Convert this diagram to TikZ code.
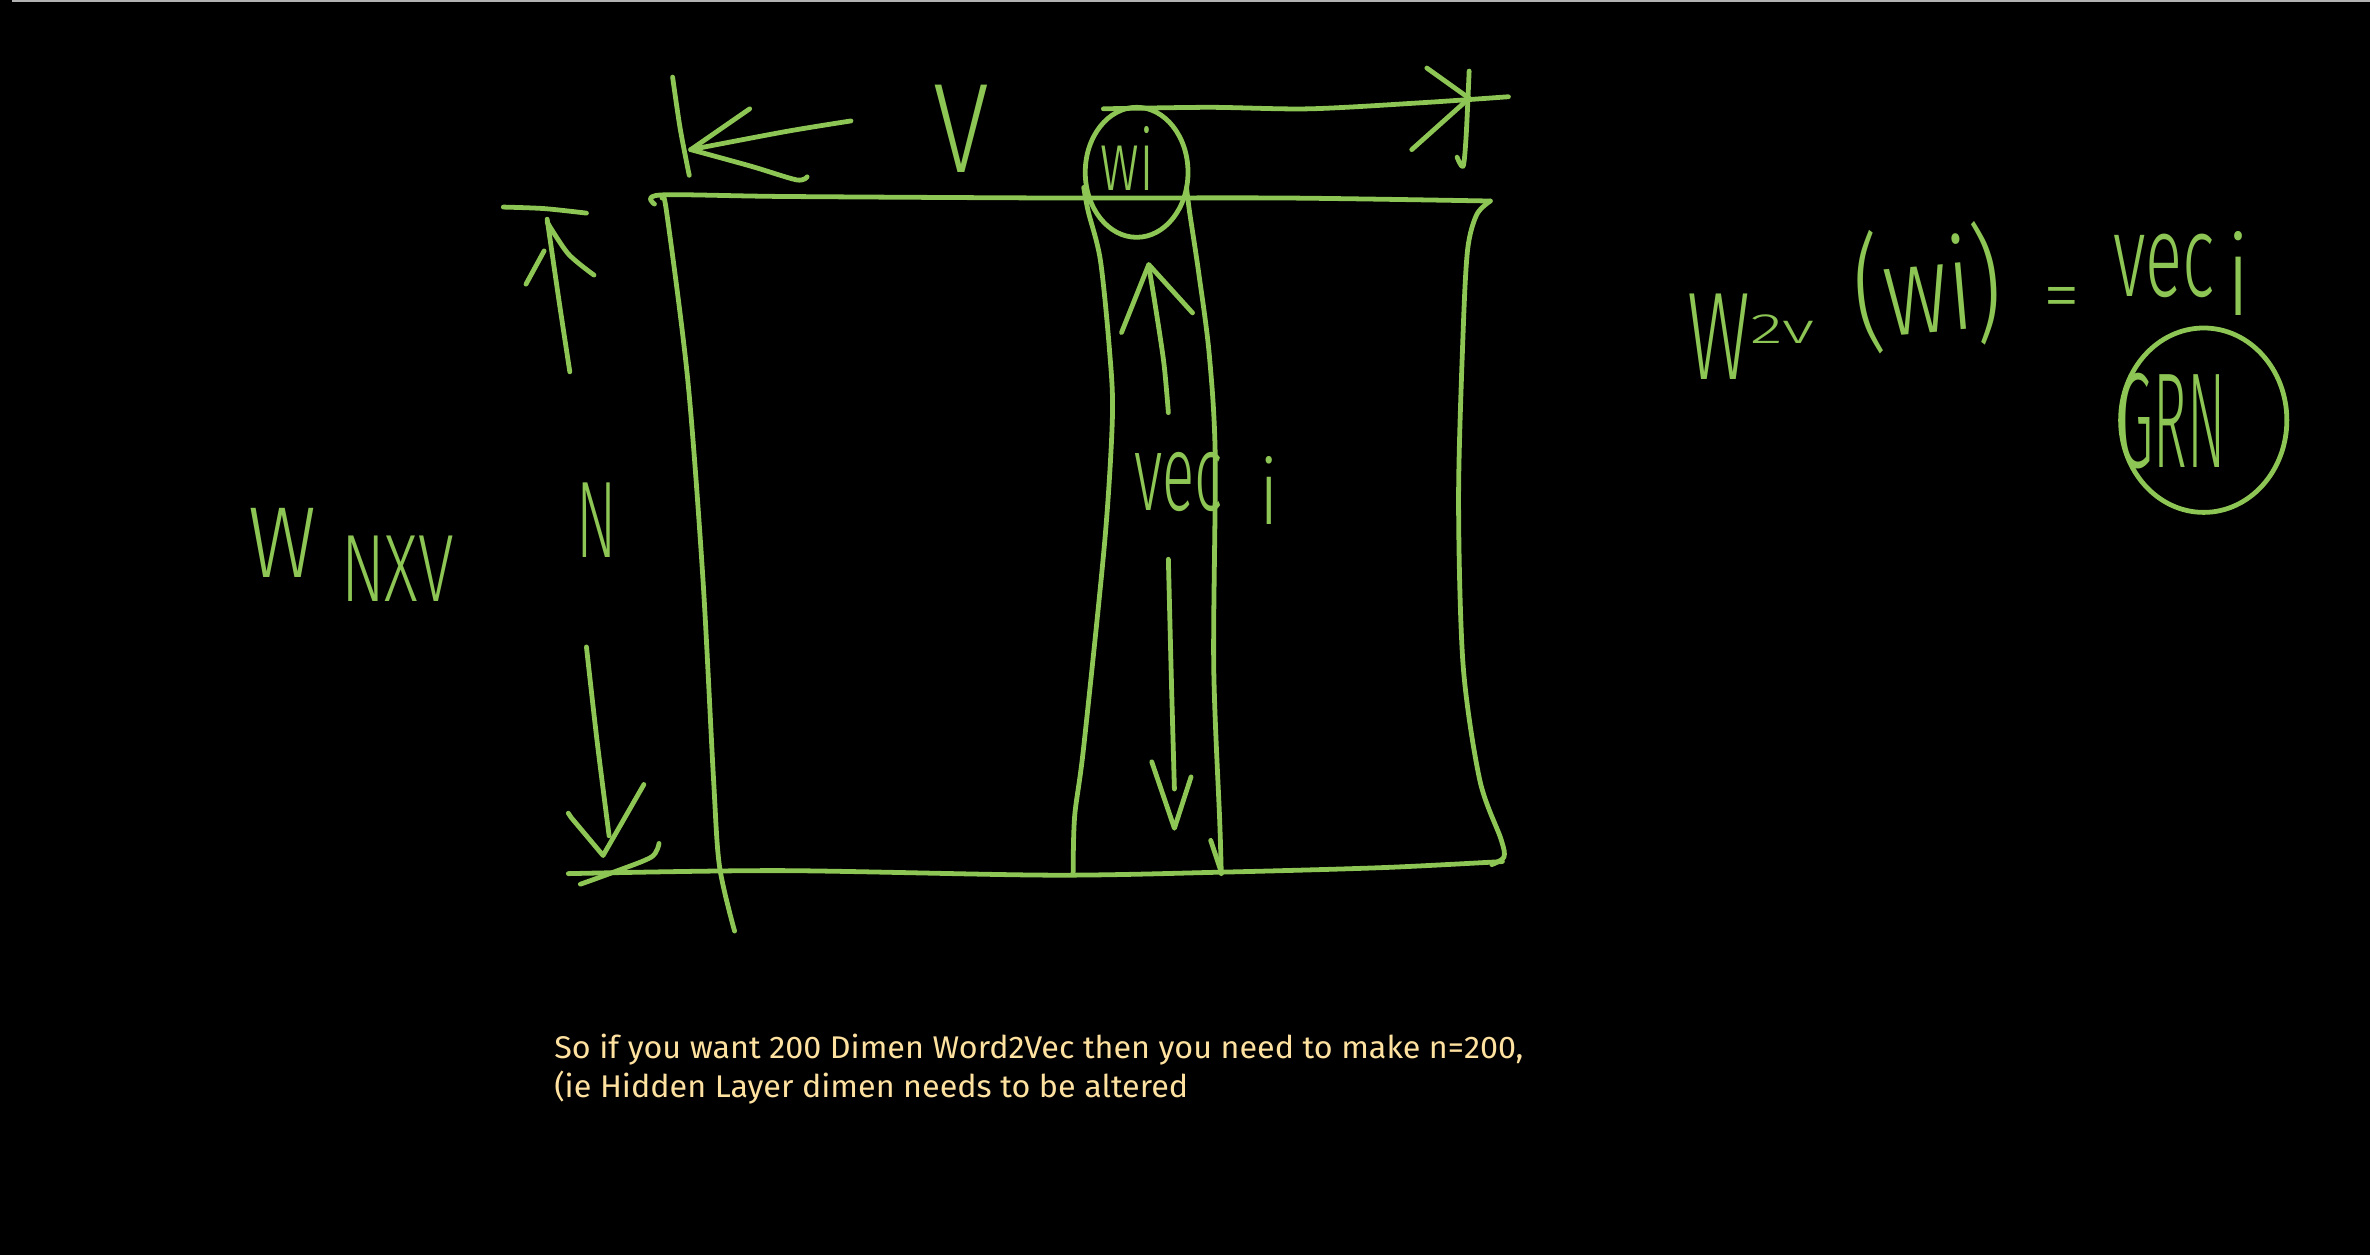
\documentclass[tikz,border=0pt]{standalone}
\usepackage{graphicx}
\usepackage{fontspec}
\setmainfont{Fira Sans}
\newfontfamily\hand{Fira Sans Light}
\definecolor{chalk}{RGB}{141,198,84}
\definecolor{note}{RGB}{255,226,160}
\newcommand{\hw}[3]{{\hand\fontsize{#2}{#2}\selectfont\scalebox{#1}[1]{#3}}}
\begin{document}
\begin{tikzpicture}[x=0.01cm,y=-0.01cm,
  pen/.style={draw=chalk,line width=0.9pt,line cap=round,line join=round},
  lbl/.style={text=chalk,inner sep=0pt,anchor=base},
  notetext/.style={text=note,inner sep=0pt,anchor=base west,font=\fontsize{5.9}{6}\selectfont}]
\fill[black] (0,0) rectangle (1568,830);
\useasboundingbox (0,0) rectangle (1568,830);
\draw[gray!60,line width=0.4pt] (8,0.6) -- (1568,0.6);

% ---- matrix W (N x V) ----
\draw[pen] plot[smooth,tension=0.5] coordinates {(433,135) (437,129) (520,130) (700,131) (850,131) (986,133)};
\draw[pen] plot[smooth,tension=0.5] coordinates {(986,133) (977,142) (971,165) (968,220) (965,330) (968,440) (979,516) (993,555) (995,567) (987,572)};
\draw[pen] plot[smooth,tension=0.5] coordinates {(376,578) (516,576) (695,579) (809,577) (915,574) (994,570)};
\draw[pen] plot[smooth,tension=0.5] coordinates {(438,131) (441,140) (455,251) (465,382) (472,514) (476,573) (486,616)};

% ---- column strip for w_i ----
\draw[pen] plot[smooth,tension=0.5] coordinates {(717,124) (720,140) (728,172) (734,231) (736,275) (731,357) (717,494) (711,540) (710,577)};
\draw[pen] plot[smooth,tension=0.5] coordinates {(785,124) (787,140) (793,180) (800,234) (804,302) (803,440) (807,544) (808,578)};
\draw[pen] (801,556) -- (808,577);
\draw[pen] (752,114) ellipse [x radius=34, y radius=43];

% arrows inside the strip
\draw[pen] plot[smooth,tension=0.5] coordinates {(773,273) (770,240) (764,200) (760,176)};
\draw[pen] (742,220) -- (760,175) -- (789,207);
\draw[pen] plot[smooth,tension=0.5] coordinates {(773,370) (775,450) (777,522)};
\draw[pen] (762,504) -- (777,548) -- (788,514);

% ---- V dimension (top) ----
\draw[pen] plot[smooth,tension=0.5] coordinates {(445,51) (450,85) (456,116)};
\draw[pen] plot[smooth,tension=0.5] coordinates {(563,80) (520,87) (457,99)};
\draw[pen] (457,99) -- (496,72);
\draw[pen] plot[smooth,tension=0.5] coordinates {(457,99) (497,110) (527,119) (534,117)};
\draw[pen] plot[smooth,tension=0.5] coordinates {(730,72) (800,71) (866,72) (940,68) (998,64)};
\draw[pen] (944,45) -- (972,65);
\draw[pen] (934,99) -- (972,65);
\draw[pen] plot[smooth,tension=0.5] coordinates {(972,47) (970,90) (968,110) (964,104)};

% ---- N dimension (left) ----
\draw[pen] plot[smooth,tension=0.5] coordinates {(333,137) (360,138) (388,141)};
\draw[pen] plot[smooth,tension=0.5] coordinates {(377,246) (370,200) (362,145)};
\draw[pen] (348,188) -- (360,166);
\draw[pen] plot[smooth,tension=0.5] coordinates {(362,147) (376,168) (393,182)};
\draw[pen] plot[smooth,tension=0.5] coordinates {(388,428) (395,490) (403,553)};
\draw[pen] (376,538) -- (378,541) -- (399,566) -- (426,519);
\draw[pen] plot[smooth,tension=0.5] coordinates {(436,558) (431,567) (406,577) (384,585)};

% ---- labels ----
\node[lbl] (Vlab) at (636,114) {\hw{0.8}{24}{V}};
\node[lbl] (Nlab) at (395,369) {\hw{0.55}{20.5}{N}};
\node[lbl] (Wlab) at (187,382) {\hw{0.83}{19}{W}};
\node[lbl] (Wsub) at (263,398) {\hw{0.68}{18}{NXV}};
\node[lbl] (wilab) at (746,126) {\hw{0.65}{16}{wi}};
\node[lbl] (veclab) at (780,338) {\hw{0.55}{20.5}{vec}};
\node[lbl] (vecsub) at (840,347) {\hw{0.8}{17}{i}};

% ---- w2v(wi) = vec_i ----
\node[text=chalk,inner sep=0pt,anchor=base west] (w2v) at (1116,251)
  {\hw{0.62}{23.5}{W}\raisebox{6.8pt}{\hw{1.6}{8}{2v}}};
\node[lbl,rotate=5] (arg) at (1278,220) {\hw{0.72}{24}{(wi)}};
\node[lbl] (eq) at (1364,212) {\hw{1}{14}{=}};
\node[lbl] (vecr) at (1432,196) {\hw{0.59}{22}{vec}};
\node[lbl] (vecrsub) at (1481,209) {\hw{0.8}{21}{i}};
\draw[pen] (1458,278) ellipse [x radius=55, y radius=61];
\node[lbl] (grn) at (1437,309) {\hw{0.42}{25.5}{GRN}};

% ---- note ----
\node[notetext] (note1) at (366,700) {\scalebox{1.03}[1]{So if you want 200 Dimen Word2Vec then you need to make n=200,}};
\node[notetext] (note2) at (366,726) {\scalebox{1.03}[1]{(ie Hidden Layer dimen needs to be altered}};
\end{tikzpicture}
\end{document}
